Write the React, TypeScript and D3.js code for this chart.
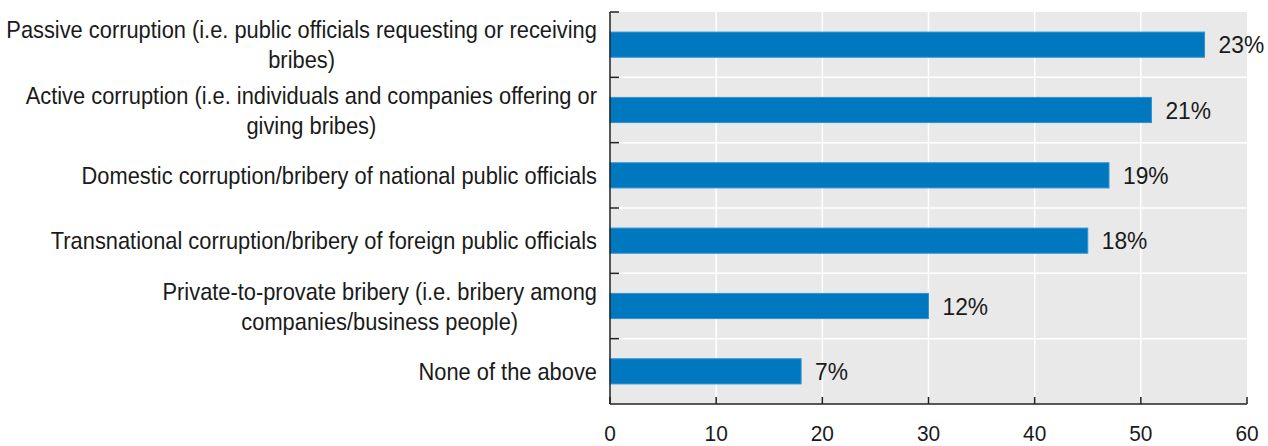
import React, { useEffect, useRef } from "react";
import * as d3 from "d3";

const categories: string[][] = [
  ["Passive corruption (i.e. public officials requesting or receiving", "bribes)"],
  ["Active corruption (i.e. individuals and companies offering or", "giving bribes)"],
  ["Domestic corruption/bribery of national public officials"],
  ["Transnational corruption/bribery of foreign public officials"],
  ["Private-to-provate bribery (i.e. bribery among", "companies/business people)"],
  ["None of the above"],
];
const values: number[] = [56, 51, 47, 45, 30, 18];
const valueLabels: string[] = ["23%", "21%", "19%", "18%", "12%", "7%"];
const xTicks: number[] = [0, 10, 20, 30, 40, 50, 60];

const W = 1268;
const H = 446;
const M = { top: 12, right: 21, bottom: 42, left: 610 };
const FONT = "'Liberation Sans', Arial, sans-serif";

export default function App() {
  const ref = useRef<SVGSVGElement>(null);

  useEffect(() => {
    const svg = d3.select(ref.current!);
    svg.selectAll("*").remove();

    const x = d3.scaleLinear().domain([0, 60]).range([M.left, W - M.right]);
    const y = d3
      .scaleBand<number>()
      .domain(d3.range(categories.length))
      .range([M.top, H - M.bottom])
      .paddingInner(0.615)
      .paddingOuter(0.3075);
    const step = y.step();
    const bandTop = (i: number) => M.top + i * step;

    svg
      .append("rect")
      .attr("x", x(0))
      .attr("y", M.top)
      .attr("width", x(60) - x(0))
      .attr("height", H - M.bottom - M.top)
      .attr("fill", "#e9e9e9");

    svg
      .append("g")
      .selectAll("line")
      .data(xTicks.slice(1, -1))
      .join("line")
      .attr("x1", (d) => x(d))
      .attr("x2", (d) => x(d))
      .attr("y1", M.top)
      .attr("y2", H - M.bottom)
      .attr("stroke", "#ffffff")
      .attr("stroke-width", 1.5);

    svg
      .append("g")
      .selectAll("line")
      .data(d3.range(1, categories.length))
      .join("line")
      .attr("x1", x(0))
      .attr("x2", x(60))
      .attr("y1", (i) => bandTop(i))
      .attr("y2", (i) => bandTop(i))
      .attr("stroke", "#ffffff")
      .attr("stroke-width", 1.5);

    svg
      .append("g")
      .selectAll("rect")
      .data(values)
      .join("rect")
      .attr("x", x(0))
      .attr("y", (_, i) => y(i)!)
      .attr("width", (d) => x(d) - x(0))
      .attr("height", y.bandwidth())
      .attr("fill", "#0078bf")
      .attr("stroke", "#3391cf")
      .attr("stroke-width", 1);

    svg
      .append("g")
      .selectAll("text")
      .data(values)
      .join("text")
      .attr("transform", (d, i) => `translate(${x(d) + 14},${y(i)! + y.bandwidth() / 2}) scale(0.95,1)`)
      .attr("dy", "0.36em")
      .attr("font-family", FONT)
      .attr("font-size", 24)
      .attr("fill", "#1a1a1a")
      .text((_, i) => valueLabels[i]);

    const axisColor = "#222";
    svg
      .append("line")
      .attr("x1", x(0))
      .attr("x2", x(0))
      .attr("y1", M.top)
      .attr("y2", H - M.bottom)
      .attr("stroke", axisColor)
      .attr("stroke-width", 1.5);
    svg
      .append("line")
      .attr("x1", x(0))
      .attr("x2", x(60))
      .attr("y1", H - M.bottom)
      .attr("y2", H - M.bottom)
      .attr("stroke", axisColor)
      .attr("stroke-width", 1.5);
    svg
      .append("g")
      .selectAll("line")
      .data(d3.range(0, categories.length))
      .join("line")
      .attr("x1", x(0))
      .attr("x2", x(0) + 9)
      .attr("y1", (i) => bandTop(i))
      .attr("y2", (i) => bandTop(i))
      .attr("stroke", axisColor)
      .attr("stroke-width", 1.5);
    svg
      .append("g")
      .selectAll("line")
      .data(xTicks)
      .join("line")
      .attr("x1", (d) => x(d))
      .attr("x2", (d) => x(d))
      .attr("y1", H - M.bottom)
      .attr("y2", H - M.bottom - 7)
      .attr("stroke", axisColor)
      .attr("stroke-width", 1.5);
    svg
      .append("g")
      .selectAll("text")
      .data(xTicks)
      .join("text")
      .attr("transform", (d) => `translate(${x(d)},${H - 5}) scale(0.95,1)`)
      .attr("text-anchor", "middle")
      .attr("font-family", FONT)
      .attr("font-size", 22)
      .attr("fill", "#1a1a1a")
      .text((d) => String(d));

    const sx = 0.91;
    const lineH = 30;
    const right = x(0) - 13;
    categories.forEach((lines, i) => {
      const g = svg.append("g");
      const cy = y(i)! + y.bandwidth() / 2;
      const texts = lines.map((ln) =>
        g
          .append("text")
          .attr("font-family", FONT)
          .attr("font-size", 24)
          .attr("fill", "#1a1a1a")
          .attr("text-anchor", "middle")
          .attr("dy", "0.36em")
          .text(ln)
      );
      const widths = texts.map((t) => (t.node() as SVGTextElement).getComputedTextLength() * sx);
      const maxW = Math.max(...widths);
      const cx = right - maxW / 2;
      texts.forEach((t, k) => {
        const ly = cy + (k - (lines.length - 1) / 2) * lineH;
        t.attr("transform", `translate(${cx},${ly}) scale(${sx},1)`);
      });
    });
  }, []);

  return (
    <svg
      ref={ref}
      width={W}
      height={H}
      style={{ position: "absolute", left: 0, top: 0, background: "#ffffff" }}
    />
  );
}
